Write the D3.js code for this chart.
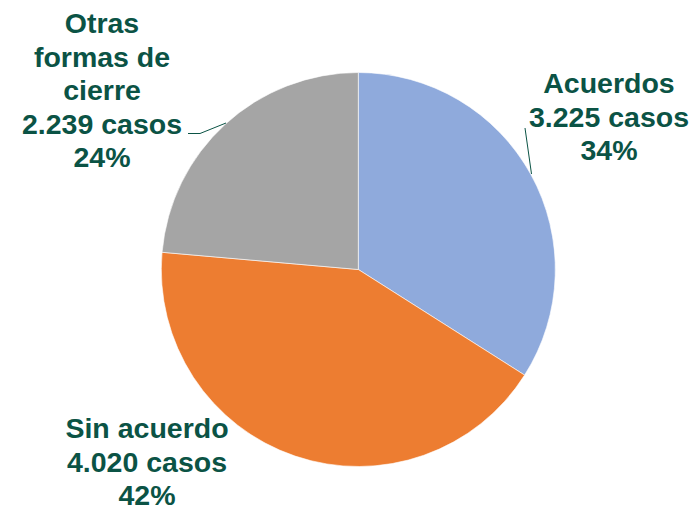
<!DOCTYPE html>
<html><head><meta charset="utf-8">
<script src="https://cdn.jsdelivr.net/npm/d3@7"></script>
<style>body{margin:0;background:#fff}</style>
</head><body>
<svg id="c" width="700" height="509"></svg>
<script>
const categories = ["Acuerdos", "Sin acuerdo", "Otras formas de cierre"];
const values = [3225, 4020, 2239];
const caseLabels = ["3.225 casos", "4.020 casos", "2.239 casos"];
const pctLabels = ["34%", "42%", "24%"];
const colors = ["#8FAADC", "#ED7D31", "#A5A5A5"];

const svg = d3.select("#c");
const cx = 358.3, cy = 269.5, r = 197;
const textColor = "#0B5345";

const pie = d3.pie().sort(null).value(d => d)(values);
const arc = d3.arc().innerRadius(0).outerRadius(r);
const g = svg.append("g").attr("transform", `translate(${cx},${cy})`);
g.selectAll("path").data(pie).join("path")
  .attr("d", arc)
  .attr("fill", (d, i) => colors[i])
  .attr("stroke", "#fff").attr("stroke-width", 0.6);

// label layout
const labelLines = [
  [categories[0], caseLabels[0], pctLabels[0]],
  [categories[1], caseLabels[1], pctLabels[1]],
  ["Otras", "formas de", "cierre", caseLabels[2], pctLabels[2]]
];
const labelPos = [
  {x: 609, y: 93},
  {x: 147, y: 438},
  {x: 102, y: 33}
];
const lh = 33.5;
labelLines.forEach((lines, i) => {
  const t = svg.append("text")
    .attr("text-anchor", "middle")
    .attr("fill", textColor)
    .style("font-family", "'Liberation Sans', Arial, sans-serif")
    .style("font-weight", "bold")
    .style("font-size", "28.5px");
  lines.forEach((l, j) => {
    t.append("tspan").attr("x", labelPos[i].x).attr("y", labelPos[i].y + j * lh).text(l);
  });
});

// leader lines
const line = d3.line();
svg.append("path").attr("d", line([[525, 128], [531.5, 174]]))
  .attr("fill", "none").attr("stroke", textColor).attr("stroke-width", 1);
svg.append("path").attr("d", line([[188, 133.5], [200, 133.5], [226, 123]]))
  .attr("fill", "none").attr("stroke", textColor).attr("stroke-width", 1);
</script>
</body></html>
